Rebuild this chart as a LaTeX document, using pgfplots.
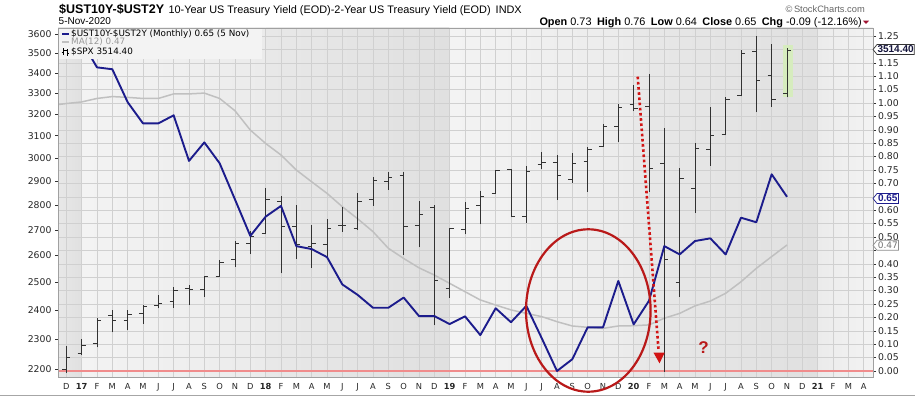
\documentclass[border=0pt]{standalone}
\usepackage{pgfplots}
\pgfplotsset{compat=1.18}
\usepackage{pgfplotstable}
\usepackage{fontspec}
\setmainfont{Liberation Sans}
\newfontfamily\dv{DejaVu Sans}
\definecolor{navyl}{RGB}{28,28,140}
\definecolor{magray}{RGB}{192,192,192}
\definecolor{gridc}{RGB}{208,208,208}
\definecolor{barc}{RGB}{50,50,50}
\definecolor{zeroc}{RGB}{240,140,140}
\definecolor{annred}{RGB}{185,25,25}
\definecolor{arrred}{RGB}{210,20,20}
\definecolor{hlgreen}{RGB}{214,236,190}
\definecolor{framec}{RGB}{160,160,160}
\definecolor{chgred}{RGB}{160,20,50}
\definecolor{tagtxt}{RGB}{20,20,60}
\definecolor{legbg}{RGB}{243,243,243}
\definecolor{dA}{RGB}{232,232,232}
\definecolor{dB}{RGB}{224,224,224}
\definecolor{lA}{RGB}{243,243,243}
\definecolor{lB}{RGB}{235,235,235}

\pgfdeclareplotmark{otick}{\pgfpathmoveto{\pgfpoint{-4bp}{0pt}}\pgfpathlineto{\pgfpoint{0pt}{0pt}}\pgfusepathqstroke}
\pgfdeclareplotmark{ctick}{\pgfpathmoveto{\pgfpoint{0pt}{0pt}}\pgfpathlineto{\pgfpoint{4bp}{0pt}}\pgfusepathqstroke}

% S&P 500 monthly bars: month index (Jan 2017 = 0), open, high, low, close
\pgfplotstableread{
m o h l c
-1 2200.17 2277.53 2187.44 2238.83
0 2251.57 2300.99 2245.13 2278.87
1 2285.59 2371.54 2271.65 2363.64
2 2380.13 2400.98 2322.25 2362.72
3 2362.34 2398.16 2328.95 2384.20
4 2388.50 2418.71 2352.72 2411.80
5 2415.65 2453.82 2405.70 2423.41
6 2431.39 2484.04 2407.70 2470.30
7 2477.10 2490.87 2417.35 2471.65
8 2474.42 2519.44 2446.55 2519.36
9 2521.20 2582.98 2520.40 2575.26
10 2583.21 2657.74 2557.45 2647.58
11 2645.10 2694.97 2605.52 2673.61
12 2683.73 2872.87 2682.36 2823.81
13 2816.45 2835.96 2532.69 2713.83
14 2715.22 2801.90 2585.89 2640.87
15 2633.45 2717.49 2553.80 2648.05
16 2642.96 2742.24 2594.62 2705.27
17 2718.70 2791.47 2691.99 2718.37
18 2704.95 2848.03 2698.95 2816.29
19 2821.17 2916.50 2796.34 2901.52
20 2896.96 2940.91 2864.12 2913.98
21 2926.29 2939.86 2603.54 2711.74
22 2717.58 2815.15 2631.09 2760.17
23 2790.50 2800.18 2346.58 2506.85
24 2476.96 2708.95 2443.96 2704.10
25 2702.32 2813.49 2681.83 2784.49
26 2798.22 2860.31 2722.27 2834.40
27 2848.63 2949.52 2848.63 2945.83
28 2952.33 2954.13 2750.52 2752.06
29 2751.53 2964.15 2728.81 2941.76
30 2971.41 3027.98 2952.22 2980.38
31 2980.32 3013.59 2822.12 2926.46
32 2909.01 3021.99 2891.85 2976.74
33 2983.69 3050.10 2855.94 3037.56
34 3050.72 3154.26 3050.72 3140.98
35 3143.85 3247.93 3070.33 3230.78
36 3244.67 3337.77 3214.64 3225.52
37 3235.66 3393.52 2855.84 2954.22
38 2974.28 3136.72 2191.86 2584.59
39 2498.08 2954.86 2447.49 2912.43
40 2869.09 3068.67 2766.64 3044.31
41 3038.78 3233.13 2965.66 3100.29
42 3105.92 3279.99 3101.17 3271.12
43 3288.26 3514.77 3284.53 3500.31
44 3507.44 3588.11 3209.45 3363.00
45 3385.87 3549.85 3233.94 3269.96
46 3296.20 3529.05 3279.74 3514.40
}\spx

% 10Y-2Y spread, monthly
\pgfplotstableread{
m v
-1 1.25
0 1.23
1 1.133
2 1.126
3 1.003
4 0.924
5 0.924
6 0.954
7 0.784
8 0.853
9 0.775
10 0.64
11 0.504
12 0.576
13 0.616
14 0.466
15 0.455
16 0.425
17 0.323
18 0.284
19 0.236
20 0.236
21 0.274
22 0.205
23 0.205
24 0.175
25 0.204
26 0.134
27 0.234
28 0.182
29 0.243
30 0.123
31 0.0
32 0.044
33 0.163
34 0.163
35 0.336
36 0.174
37 0.262
38 0.466
39 0.435
40 0.485
41 0.495
42 0.435
43 0.572
44 0.555
45 0.734
46 0.65
}\spread

% 12-month moving average of the spread
\pgfplotstableread{
m v
-1.55 0.994
-1 0.998
0 1.004
1 1.017
2 1.024
3 1.021
4 1.017
5 1.017
6 1.034
7 1.034
8 1.037
9 1.017
10 0.971
11 0.899
12 0.849
13 0.806
14 0.750
15 0.706
16 0.663
17 0.613
18 0.568
19 0.520
20 0.458
21 0.420
22 0.385
23 0.358
24 0.327
25 0.296
26 0.265
27 0.246
28 0.228
29 0.215
30 0.203
31 0.184
32 0.168
33 0.163
34 0.159
35 0.168
36 0.169
37 0.172
38 0.197
39 0.215
40 0.243
41 0.261
42 0.290
43 0.333
44 0.383
45 0.427
46 0.470
}\mav

\pgfplotsset{
  base/.style={scale only axis, width=815bp, height=349bp, at={(58bp,19bp)},
    anchor=south west, xmin=-1.543, xmax=51.61},
  yld/.style={ymin=-0.0224, ymax=1.2799},
}

\begin{document}
\begin{tikzpicture}[x=1bp,y=1bp]
\useasboundingbox (0,0) rectangle (915,396);
\fill[white] (0,0) rectangle (915,396);

% background year bands
\begin{axis}[base, yld, hide axis]
  \fill[left color=dA, right color=dB] (axis cs:-1.543,-0.0224) rectangle (axis cs:0,1.2799);
  \fill[left color=lA, right color=lB] (axis cs:0,-0.0224) rectangle (axis cs:12,1.2799);
  \fill[left color=dA, right color=dB] (axis cs:12,-0.0224) rectangle (axis cs:24,1.2799);
  \fill[left color=lA, right color=lB] (axis cs:24,-0.0224) rectangle (axis cs:36,1.2799);
  \fill[left color=dA, right color=dB] (axis cs:36,-0.0224) rectangle (axis cs:48,1.2799);
  \fill[left color=lB, right color=lA] (axis cs:48,-0.0224) rectangle (axis cs:51.61,1.2799);
\end{axis}

% spread axis (right) with grid and month labels
\begin{axis}[base, yld,
  axis line style={framec, line width=0.8bp},
  xtick={-1,...,51},
  xticklabels={D,\textbf{17},F,M,A,M,J,J,A,S,O,N,D,\textbf{18},F,M,A,M,J,J,A,S,O,N,D,\textbf{19},F,M,A,M,J,J,A,S,O,N,D,\textbf{20},F,M,A,M,J,J,A,S,O,N,D,\textbf{21},F,M,A},
  xtick pos=bottom, xtick style={draw=none},
  ytick={0,0.05,0.1,0.15,0.2,0.25,0.3,0.35,0.4,0.45,0.5,0.55,0.6,0.65,0.7,0.75,0.8,0.85,0.9,0.95,1,1.05,1.1,1.15,1.2,1.25},
  yticklabels={0.00,0.05,0.10,0.15,0.20,0.25,0.30,0.35,0.40,{},0.50,0.55,0.60,{},0.70,0.75,0.80,0.85,0.90,0.95,1.00,1.05,1.10,1.15,{},1.25},
  ytick pos=right, yticklabel pos=right,
  tick align=outside, major tick length=3bp,
  ytick style={barc, line width=0.6bp},
  xmajorgrids, ymajorgrids, grid style={gridc, line width=0.5bp},
  yticklabel style={font=\dv\fontsize{9.3bp}{10bp}\selectfont, text=black!85, xshift=-1.5bp},
  xticklabel style={font=\dv\fontsize{8.3bp}{10bp}\selectfont, text=black!85},
]
  \addplot[zeroc, line width=1.8bp, forget plot] coordinates {(-1.543,0) (51.61,0)};
  \addplot[magray, line width=1.5bp, line join=round] table[x=m, y=v]{\mav};
\end{axis}

% S&P 500 axis (left, log)
\begin{axis}[base, ymode=log, ymin=2175.3, ymax=3631.8,
  hide x axis, axis y line*=left,
  y axis line style={framec, line width=0.8bp},
  ytick={2200,2300,2400,2500,2600,2700,2800,2900,3000,3100,3200,3300,3400,3500,3600},
  yticklabels={2200,2300,2400,2500,2600,2700,2800,2900,3000,3100,3200,3300,3400,3500,3600},
  yminorticks=false,
  tick align=outside, major tick length=3bp,
  ytick style={barc, line width=0.6bp},
  yticklabel style={font=\dv\fontsize{9.3bp}{10bp}\selectfont, text=black!85},
]
  \fill[hlgreen] (axis cs:45.76,3542) rectangle (axis cs:46.41,3280);
  \pgfplotsforeachungrouped \i in {0,...,47}{%
    \pgfplotstablegetelem{\i}{m}\of\spx \let\xm\pgfplotsretval
    \pgfplotstablegetelem{\i}{l}\of\spx \let\yl\pgfplotsretval
    \pgfplotstablegetelem{\i}{h}\of\spx \let\yh\pgfplotsretval
    \edef\tmp{\noexpand\addplot[barc, line width=0.9bp, forget plot] coordinates {(\xm,\yl) (\xm,\yh)};}%
    \tmp
  }
  \addplot[only marks, mark=otick, mark options={draw=barc, line width=0.9bp}] table[x=m, y=o]{\spx};
  \addplot[only marks, mark=ctick, mark options={draw=barc, line width=0.9bp}] table[x=m, y=c]{\spx};
\end{axis}

% spread line on top
\begin{axis}[base, yld, hide axis]
  \addplot[navyl, line width=1.9bp, line join=round] table[x=m, y=v]{\spread};
\end{axis}

% header
\node[anchor=base west, inner sep=0, font=\bfseries\fontsize{12.5bp}{14bp}\selectfont] at (59,382.7) {\$UST10Y-\$UST2Y};
\node[anchor=base west, inner sep=0, font=\fontsize{10.9bp}{12bp}\selectfont] at (168.3,382.7) {10-Year US Treasury Yield (EOD)-2-Year US Treasury Yield (EOD)\hspace{5bp}INDX};
\node[anchor=base west, inner sep=0, font=\fontsize{10bp}{12bp}\selectfont] at (58.5,372) {5-Nov-2020};
\node[anchor=base east, inner sep=0, font=\fontsize{9.3bp}{11bp}\selectfont, text=black!60] at (865,383.7) {\textcopyright\,StockCharts.com};
\node[anchor=base east, inner sep=0, font=\fontsize{10.9bp}{12bp}\selectfont] at (862,370.7) {\textbf{Open} 0.73\enspace\textbf{High} 0.76\enspace\textbf{Low} 0.64\enspace\textbf{Close} 0.65\enspace\textbf{Chg} -0.09 (-12.16\%)};
\fill[chgred] (863,375.3)--(869,375.3)--(866,372)--cycle;

% legend (opaque box as in the reference)
\fill[legbg] (58.6,337.5) rectangle (262,367.4);
\draw[navyl, line width=2bp] (62,362)--(69,362);
\node[anchor=west, inner sep=0, font=\dv\fontsize{8.8bp}{9bp}\selectfont] at (71,362) {\$UST10Y-\$UST2Y (Monthly) 0.65 (5 Nov)};
\draw[magray, line width=2bp] (62,354.3)--(69,354.3);
\node[anchor=west, inner sep=0, font=\dv\fontsize{8.8bp}{9bp}\selectfont, text=black!40] at (71,354.3) {MA(12) 0.47};
\draw[black, line width=0.8bp] (63.2,341.5)--(63.2,348) (61.5,344)--(63.2,344) (63.2,346)--(64.8,346);
\draw[black, line width=0.8bp] (67,340.5)--(67,347) (65.4,345.5)--(67,345.5) (67,342.5)--(68.6,342.5);
\node[anchor=west, inner sep=0, font=\dv\fontsize{8.8bp}{9bp}\selectfont] at (71,343.7) {\$SPX 3514.40};

% right-axis value tags
\filldraw[fill=white, draw=black!80, line width=0.7bp] (873,346.5)--(877,351.5)--(914.3,351.5)--(914.3,341.5)--(877,341.5)--cycle;
\node[font=\bfseries\fontsize{10bp}{11bp}\selectfont, text=tagtxt, inner sep=0] at (895.6,346.5) {3514.40};
\filldraw[fill=white, draw=navyl, line width=0.7bp] (873,197.5)--(877,202.5)--(898.5,202.5)--(898.5,192.5)--(877,192.5)--cycle;
\node[font=\bfseries\fontsize{10bp}{11bp}\selectfont, text=navyl, inner sep=0] at (887.8,197.5) {0.65};
\filldraw[fill=white, draw=black!45, line width=0.7bp] (873,150.7)--(877,155.7)--(898.5,155.7)--(898.5,145.7)--(877,145.7)--cycle;
\node[font=\dv\fontsize{9bp}{10bp}\selectfont, text=black!55, inner sep=0] at (887.8,150.7) {0.47};

% annotations
\draw[annred, line width=2.2bp] (588.3,85.5) ellipse [x radius=62.3, y radius=81.2];
\draw[arrred, line width=2.6bp, dash pattern=on 2.6bp off 2.6bp] (637.7,319.3) -- (658.6,45);
\fill[arrred] (653.4,43.5)--(664.8,43.5)--(659.5,32.7)--cycle;
\node[text=annred, font=\bfseries\fontsize{17bp}{17bp}\selectfont] at (703.5,48.5) {?};

% bottom frame line
\draw[black!35, line width=1bp] (0,0.8)--(915,0.8);
\end{tikzpicture}
\end{document}
